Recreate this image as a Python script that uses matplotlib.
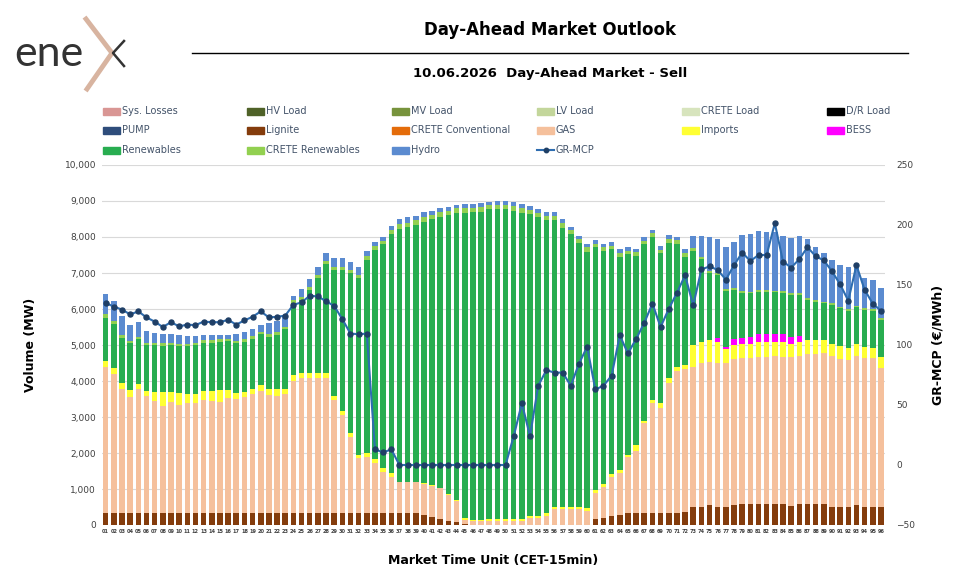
import matplotlib
matplotlib.use("Agg")
import matplotlib.pyplot as plt
from matplotlib.lines import Line2D
from matplotlib.patches import Rectangle
import numpy as np

# Market time units (15 min)
mtu = [f"{i:02d}" for i in range(1, 97)]

lignite = [330] * 32 + [340, 340, 340, 340, 340, 345, 345, 280, 215, 165, 120, 75, 30] + [0] * 15 + \
    [155, 205, 250, 280, 325, 325, 325, 325, 325, 325, 325, 370, 510, 510, 545, 510, 510, 545,
     585, 585, 585, 585, 585, 585, 530, 585, 585, 585, 585, 510, 510, 510, 545, 510, 510, 510]

gas = [4070, 3855, 3450, 3235, 3450, 3265, 3125, 2975, 3085, 3005, 3050, 3050, 3140, 3115, 3085, 3190,
       3180, 3235, 3310, 3400, 3280, 3265, 3310, 3680, 3765, 3765, 3765, 3765, 3140, 2725, 2125, 1520,
       1560, 1375, 1140, 1005, 845, 840, 840, 860, 870, 855, 715, 600, 110, 100, 100, 100,
       110, 110, 100, 110, 185, 185, 250, 435, 435, 435, 435, 400, 745, 860, 1095, 1155,
       1575, 1740, 2500, 3055, 2935, 3630, 3955, 3955, 3890, 3980, 3990, 4000, 4000, 4055, 4065, 4065,
       4090, 4090, 4120, 4090, 4145, 4120, 4165, 4165, 4185, 4195, 4100, 4075, 4160, 4120, 4120, 3860]

imports = [165, 165, 155, 185, 135, 125, 240, 380, 270, 320, 260, 260, 260, 270, 325, 220,
           155, 140, 130, 150, 160, 175, 145, 145, 135, 135, 135, 135, 115, 120, 110, 95,
           110, 110, 95, 110, 20, 20, 20, 20, 15, 15, 15, 15, 45, 40, 40, 55,
           65, 65, 55, 65, 65, 75, 75, 55, 55, 55, 55, 65, 70, 75, 70, 95,
           45, 155, 75, 90, 120, 120, 120, 120, 590, 595, 605, 585, 370, 400, 380, 380,
           420, 420, 390, 420, 355, 390, 390, 390, 370, 325, 360, 340, 325, 305, 275, 305]

bess = [0] * 75 + [110, 55, 155, 155, 200, 210, 210, 210, 210, 200, 165] + [0] * 10

renewables = [1195, 1225, 1250, 1315, 1240, 1280, 1295, 1295, 1305, 1325, 1340, 1350, 1335, 1350, 1355, 1380,
              1380, 1390, 1405, 1425, 1460, 1510, 1650, 2000, 2020, 2300, 2640, 3020, 3500, 3910, 4425, 4905,
              5350, 5815, 6220, 6630, 7015, 7065, 7140, 7255, 7390, 7530, 7760, 7965, 8470, 8545, 8565, 8615,
              8605, 8605, 8575, 8500, 8380, 8285, 8145, 7980, 7770, 7595, 7335, 7130, 6750, 6470, 6240, 5925,
              5580, 5260, 4895, 4540, 4165, 3770, 3405, 3010, 2620, 2295, 1850, 1740, 1565, 1375, 1270, 1205,
              1175, 1175, 1155, 1145, 1160, 1130, 1110, 1065, 1015, 1080, 1050, 1030, 1015, 1035, 1050, 1020]

crete_renewables = [90, 90, 95, 55, 75, 65, 55, 65, 55, 50, 50, 55, 65, 65, 60, 55,
                    65, 60, 75, 65, 75, 80, 75, 95, 95, 90, 75, 95, 90, 90, 95, 95,
                    110, 110, 105, 110, 130, 130, 125, 130, 120, 130, 120, 140, 145, 130, 125, 110,
                    110, 120, 130, 130, 120, 130, 125, 125, 120, 110, 120, 120, 95, 100, 105, 90,
                    85, 95, 105, 90, 95, 90, 110, 90, 75, 75, 75, 45, 55, 45, 55, 45,
                    50, 50, 50, 50, 45, 45, 45, 45, 45, 45, 45, 45, 45, 45, 45, 45]

hydro = [570, 555, 535, 445, 400, 315, 280, 270, 260, 250, 220, 205, 150, 140, 125, 110,
         195, 205, 185, 175, 315, 315, 275, 110, 200, 205, 230, 220, 230, 240, 230, 210,
         140, 120, 110, 120, 150, 145, 115, 140, 120, 100, 115, 95, 105, 100, 105, 100,
         120, 110, 110, 110, 120, 105, 100, 90, 110, 90, 90, 90, 100, 95, 100, 120,
         100, 90, 90, 100, 115, 125, 85, 115, 355, 585, 945, 955, 1160, 1275, 1535, 1595,
         1635, 1600, 1620, 1530, 1530, 1595, 1640, 1465, 1365, 1205, 1150, 1155, 1040, 835, 805, 835]

gr_mcp = [135, 132, 129.5, 125.5, 128, 123, 119.5, 115, 119, 115.5, 117, 116.5, 119.5, 119, 119, 121,
          117, 120.5, 123.5, 128, 123, 123.5, 124.5, 133.5, 135.5, 141, 140.5, 136.5, 132.5, 121.5, 109.5, 109,
          109.5, 13, 10.5, 13, 0, 0, 0, 0, 0, 0, 0, 0, 0, 0, 0, 0,
          0, 0, 24, 51.5, 24, 66, 79, 77, 77, 66, 84.5, 98.5, 63, 66, 74.5, 108,
          93, 105, 118.5, 134.5, 115, 130, 143.5, 158, 133, 163, 165.5, 162.5, 154.5, 166.5, 177, 170,
          175, 175, 201.5, 169.5, 164.5, 171.5, 181.5, 174, 170.5, 161.5, 150.5, 137, 166.5, 146, 134.5, 128.5]

# colours of the legend entries (row by row as in the original)
colores = {
    "Sys. Losses": "#d99694", "HV Load": "#4f6228", "MV Load": "#77933c",
    "LV Load": "#c3d69b", "CRETE Load": "#d7e4bd", "D/R Load": "#000000",
    "PUMP": "#2e4d7b", "Lignite": "#843c0c", "CRETE Conventional": "#e46c0a",
    "GAS": "#f5c09c", "Imports": "#ffff33", "BESS": "#ff00ff",
    "Renewables": "#28ad50", "CRETE Renewables": "#92d050", "Hydro": "#5b8bd0",
    "GR-MCP": "#2e6db0",
}
orden_leyenda = list(colores.keys())

# stacked series, bottom to top
pila = [("Lignite", lignite), ("GAS", gas), ("Imports", imports), ("BESS", bess),
        ("Renewables", renewables), ("CRETE Renewables", crete_renewables), ("Hydro", hydro)]

W, H = 969, 586
fig = plt.figure(figsize=(W / 100, H / 100), dpi=100)
fig.patch.set_facecolor("white")

def fx(px):
    return px / W

def fy(py):
    return 1 - py / H

ax = fig.add_axes([fx(101.6), fy(525), fx(885 - 101.6), (525 - 165) / H])
x = np.arange(len(mtu))
base = np.zeros(len(mtu))
for nombre, valores in pila:
    v = np.array(valores, dtype=float)
    ax.bar(x, v, bottom=base, width=0.68, color=colores[nombre], linewidth=0, zorder=2)
    base += v

ax.set_xlim(-0.5, len(mtu) - 0.5)
ax.set_ylim(0, 10000)
ax.set_yticks(range(0, 10001, 1000))
ax.set_yticklabels([f"{v:,}" for v in range(0, 10001, 1000)], fontsize=6.5, color="#404040")
ax.set_xticks(x)
ax.set_xticklabels(mtu, fontsize=3.6, color="#404040", fontweight="bold")
ax.tick_params(length=0, pad=4)
ax.tick_params(axis="x", pad=3)
ax.grid(axis="y", color="#d9d9d9", linewidth=0.8, zorder=0)
for s in ax.spines.values():
    s.set_visible(False)
ax.set_ylabel("Volume (MW)", fontsize=9, fontweight="bold", labelpad=20)
ax.set_xlabel("Market Time Unit (CET-15min)", fontsize=9, fontweight="bold", labelpad=14)

ax2 = ax.twinx()
ax2.plot(x, gr_mcp, color=colores["GR-MCP"], linewidth=1.5, marker="o", markersize=3.6,
         markerfacecolor="#1f3f66", markeredgecolor="#1f3f66", zorder=3)
ax2.set_ylim(-50, 250)
ax2.set_yticks(range(-50, 251, 50))
ax2.tick_params(length=0, labelsize=6.5, labelcolor="#404040", pad=8)
for s in ax2.spines.values():
    s.set_visible(False)
ax2.set_ylabel("GR-MCP (€/MWh)", fontsize=9, fontweight="bold", labelpad=12)

# titles
fig.text(fx(550), fy(30), "Day-Ahead Market Outlook", fontsize=12, fontweight="bold",
         ha="center", va="center")
fig.add_artist(Line2D([fx(192), fx(908)], [fy(53), fy(53)], color="black", linewidth=1))
fig.text(fx(550), fy(73), "10.06.2026  Day-Ahead Market - Sell", fontsize=9.5, fontweight="bold",
         ha="center", va="center")

# logo
fig.text(fx(14), fy(54), "ene", fontsize=31, color="#333333", family="Lato",
         ha="left", va="center")
fig.add_artist(Line2D([fx(86), fx(112), fx(87)], [fy(19), fy(53), fy(89)],
                      color="#d8b4a0", linewidth=3.5, solid_joinstyle="miter"))
fig.add_artist(Line2D([fx(124), fx(113), fx(124)], [fy(41), fy(53), fy(66)],
                      color="#333333", linewidth=1.8))

# legend, 6 columns x 3 rows
col_x = [103, 247, 392, 537, 682, 827]
fila_y = [111, 130, 150]
for i, nombre in enumerate(orden_leyenda):
    fila, col = divmod(i, 6)
    px, py = col_x[col], fila_y[fila]
    if nombre == "GR-MCP":
        fig.add_artist(Line2D([fx(px), fx(px + 17)], [fy(py), fy(py)], color=colores[nombre],
                              linewidth=1.5))
        fig.add_artist(Line2D([fx(px + 8.5)], [fy(py)], color="#1f3f66", marker="o", markersize=3.2))
    else:
        fig.add_artist(Rectangle((fx(px), fy(py + 3.5)), fx(17), 7 / H, color=colores[nombre],
                                 transform=fig.transFigure))
    fig.text(fx(px + 19), fy(py), nombre, fontsize=7, color="#44546a", ha="left", va="center")

fig.savefig("out.png", dpi=100, facecolor="white")
